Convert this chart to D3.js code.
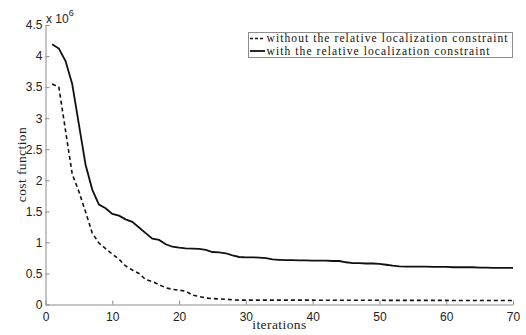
<!DOCTYPE html>
<html>
<head>
<meta charset="utf-8">
<script src="https://cdn.jsdelivr.net/npm/d3@7"></script>
<style>
  body { margin: 0; background: #fff; }
  svg { display: block; }
</style>
</head>
<body>
<div id="chart"></div>
<script>
// cost values in units of 10^6
const iterations = d3.range(1, 71);
const withConstraint = [
  4.19, 4.12, 3.92, 3.55, 2.90, 2.25, 1.85, 1.61, 1.55, 1.46,
  1.43, 1.37, 1.33, 1.24, 1.15, 1.06, 1.04, 0.97, 0.93, 0.915,
  0.905, 0.90, 0.895, 0.88, 0.845, 0.84, 0.825, 0.79, 0.765, 0.76,
  0.76, 0.755, 0.745, 0.725, 0.72, 0.715, 0.715, 0.71, 0.71, 0.705,
  0.705, 0.705, 0.70, 0.70, 0.68, 0.665, 0.665, 0.66, 0.66, 0.655,
  0.64, 0.625, 0.615, 0.61, 0.61, 0.61, 0.61, 0.605, 0.605, 0.605,
  0.60, 0.60, 0.60, 0.60, 0.595, 0.595, 0.59, 0.59, 0.59, 0.59
];
const withoutConstraint = [
  3.55, 3.50, 2.80, 2.10, 1.82, 1.49, 1.15, 0.99, 0.90, 0.81,
  0.73, 0.62, 0.555, 0.50, 0.40, 0.37, 0.32, 0.27, 0.245, 0.23,
  0.215, 0.15, 0.13, 0.105, 0.095, 0.09, 0.085, 0.075, 0.07, 0.07,
  0.07, 0.07, 0.07, 0.07, 0.07, 0.07, 0.07, 0.07, 0.07, 0.07,
  0.068, 0.068, 0.068, 0.068, 0.068, 0.068, 0.068, 0.068, 0.068, 0.068,
  0.066, 0.066, 0.066, 0.066, 0.066, 0.066, 0.066, 0.066, 0.066, 0.066,
  0.065, 0.065, 0.065, 0.065, 0.065, 0.065, 0.065, 0.065, 0.065, 0.065
];
const xTicks = [0, 10, 20, 30, 40, 50, 60, 70];
const yTicks = [0, 0.5, 1, 1.5, 2, 2.5, 3, 3.5, 4, 4.5];
const legendLabels = [
  "without the relative localization constraint",
  "with the relative localization constraint"
];

const width = 526, height = 335;
const margin = { left: 45.5, right: 13, top: 25, bottom: 30.5 };

const svg = d3.select("#chart").append("svg")
  .attr("width", width)
  .attr("height", height);

const x = d3.scaleLinear().domain([0, 70]).range([margin.left, width - margin.right]);
const y = d3.scaleLinear().domain([0, 4.5]).range([height - margin.bottom, margin.top]);

const axisColor = "#8c8c8c";
const tickFont = "'Liberation Sans', Arial, sans-serif";
const serif = "'Liberation Serif', 'Times New Roman', serif";

// x axis (ticks point inward)
const xAxis = svg.append("g")
  .attr("transform", `translate(0,${y(0)})`)
  .call(d3.axisBottom(x).tickValues(xTicks).tickFormat(d => d)
    .tickSizeInner(-4).tickSizeOuter(0).tickPadding(8));
xAxis.select(".domain").attr("stroke", axisColor);
xAxis.selectAll(".tick line").attr("stroke", axisColor);
xAxis.selectAll("text").attr("font-family", tickFont).attr("font-size", 12).attr("fill", "#222");

// y axis
const yAxis = svg.append("g")
  .attr("transform", `translate(${x(0)},0)`)
  .call(d3.axisLeft(y).tickValues(yTicks).tickFormat(d => d)
    .tickSizeInner(-4).tickSizeOuter(0).tickPadding(3));
yAxis.select(".domain").attr("stroke", axisColor);
yAxis.selectAll(".tick line").attr("stroke", axisColor);
yAxis.selectAll("text").attr("font-family", tickFont).attr("font-size", 12).attr("fill", "#222");

// exponent label
const expo = svg.append("text")
  .attr("x", x(0) + 0.5)
  .attr("y", 22.5)
  .attr("font-family", tickFont)
  .attr("font-size", 12)
  .attr("fill", "#222");
expo.append("tspan").text("x 10");
expo.append("tspan").attr("dy", -7).attr("font-size", 9).text("6");

// axis titles
svg.append("text")
  .attr("x", (x(0) + x(70)) / 2)
  .attr("y", 329)
  .attr("text-anchor", "middle")
  .attr("font-family", serif)
  .attr("font-size", 13.5)
  .attr("textLength", 54)
  .attr("fill", "#222")
  .text("iterations");

svg.append("text")
  .attr("transform", `translate(26,${(y(0) + y(4.5)) / 2}) rotate(-90)`)
  .attr("text-anchor", "middle")
  .attr("font-family", serif)
  .attr("font-size", 13.5)
  .attr("textLength", 75)
  .attr("fill", "#222")
  .text("cost function");

// lines
const line = d3.line()
  .x((d, i) => x(iterations[i]))
  .y(d => y(d));

svg.append("path")
  .datum(withoutConstraint)
  .attr("d", line)
  .attr("fill", "none")
  .attr("stroke", "#111")
  .attr("stroke-width", 1.6)
  .attr("stroke-dasharray", "4,3");

svg.append("path")
  .datum(withConstraint)
  .attr("d", line)
  .attr("fill", "none")
  .attr("stroke", "#111")
  .attr("stroke-width", 1.8);

// legend
const legend = svg.append("g");
legend.append("rect")
  .attr("x", 248.5).attr("y", 32.5)
  .attr("width", 264).attr("height", 25)
  .attr("fill", "#fff")
  .attr("stroke", axisColor);

legendLabels.forEach((label, i) => {
  const cy = 38.5 + i * 12.5;
  legend.append("line")
    .attr("x1", 250).attr("x2", 265)
    .attr("y1", cy).attr("y2", cy)
    .attr("stroke", "#111")
    .attr("stroke-width", i === 0 ? 1.4 : 1.8)
    .attr("stroke-dasharray", i === 0 ? "3,2" : null);
  legend.append("text")
    .attr("x", 266.5)
    .attr("y", cy + 3.5)
    .attr("font-family", serif)
    .attr("font-size", 11.5)
    .attr("textLength", i === 0 ? 241 : 223)
    .attr("fill", "#111")
    .text(label);
});
</script>
</body>
</html>
